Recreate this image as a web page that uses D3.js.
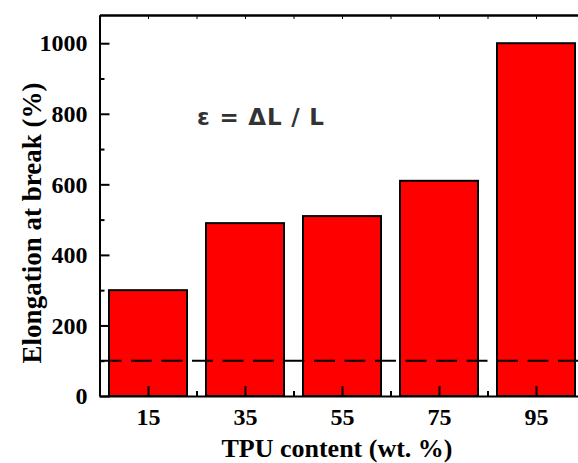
<!DOCTYPE html>
<html lang="en">
<head>
  <meta charset="UTF-8">
  <title>Elongation at break</title>
  <script src="https://cdn.jsdelivr.net/npm/d3@7"></script>
  <style>
    body { margin: 0; background: #fff; }
    svg { display: block; }
  </style>
</head>
<body>
  <div id="chart"></div>
  <script>
    const categories = ['15', '35', '55', '75', '95']
    const elongation = [300, 490, 510, 610, 1000]
    const yTicks = [0, 200, 400, 600, 800, 1000]
    const yMinorTicks = [100, 300, 500, 700, 900]
    const referenceLine = 100

    const width = 578
    const height = 463
    const plotLeft = 99.5
    const plotTop = 15
    const plotBottom = 396
    const serif = '"Liberation Serif", "Times New Roman", "DejaVu Serif", serif'

    const svg = d3.select('#chart')
      .append('svg')
      .attr('width', width)
      .attr('height', height)

    // categories sit at 1..5, plot edges at 0.5 and 5.5
    const xScale = d3.scaleLinear()
      .domain([0.5, categories.length + 0.5])
      .range([plotLeft, plotLeft + 97 * categories.length])

    const yScale = d3.scaleLinear()
      .domain([0, 1080])
      .range([plotBottom, plotTop])

    const barWidth = 78

    svg.selectAll('rect.bar')
      .data(elongation)
      .enter()
      .append('rect')
      .attr('class', 'bar')
      .attr('x', (d, i) => xScale(i + 1) - barWidth / 2)
      .attr('y', d => yScale(d))
      .attr('width', barWidth)
      .attr('height', d => yScale(0) - yScale(d))
      .attr('fill', '#ff0000')
      .attr('stroke', '#000')
      .attr('stroke-width', 2)

    svg.append('line')
      .attr('x1', xScale(0.5) + 1)
      .attr('x2', xScale(5.5))
      .attr('y1', yScale(referenceLine))
      .attr('y2', yScale(referenceLine))
      .attr('stroke', '#000')
      .attr('stroke-width', 2)
      .attr('stroke-dasharray', '21,9.5')

    const catIdx = categories.map((c, i) => i + 1)
    const xMinor = d3.range(0.5, categories.length + 1, 1)

    const xAxis = d3.axisBottom(xScale)
      .tickValues(catIdx)
      .tickFormat((d, i) => categories[i])
      .tickSizeInner(-10)
      .tickSizeOuter(0)
      .tickPadding(12)

    svg.append('g')
      .attr('transform', `translate(0, ${plotBottom})`)
      .call(xAxis)

    svg.append('g')
      .attr('transform', `translate(0, ${plotBottom})`)
      .call(d3.axisBottom(xScale).tickValues(xMinor).tickFormat('').tickSizeInner(-5).tickSizeOuter(0))
      .select('.domain').remove()

    const gTop = svg.append('g')
      .attr('transform', `translate(0, ${plotTop})`)
      .call(d3.axisTop(xScale).tickValues(catIdx.concat(xMinor)).tickFormat('').tickSizeInner(-4).tickSizeOuter(0))

    const yAxis = d3.axisLeft(yScale)
      .tickValues(yTicks)
      .tickFormat(d3.format('d'))
      .tickSizeInner(-10)
      .tickSizeOuter(0)
      .tickPadding(12)

    svg.append('g')
      .attr('transform', `translate(${plotLeft}, 0)`)
      .call(yAxis)

    svg.append('g')
      .attr('transform', `translate(${plotLeft}, 0)`)
      .call(d3.axisLeft(yScale).tickValues(yMinorTicks).tickFormat('').tickSizeInner(-5).tickSizeOuter(0))
      .select('.domain').remove()

    svg.selectAll('.domain, .tick line')
      .attr('stroke', '#000')
      .attr('stroke-width', 2)

    gTop.selectAll('.tick line').attr('stroke-width', 1)
    gTop.select('.domain').attr('stroke-width', 2.5)

    svg.selectAll('g').attr('font-family', null)

    svg.selectAll('.tick text')
      .attr('fill', '#000')
      .style('font-family', serif)
      .style('font-weight', 'bold')
      .style('font-size', '24px')

    svg.append('text')
      .attr('x', 337)
      .attr('y', 457)
      .attr('text-anchor', 'middle')
      .style('font-family', serif)
      .style('font-weight', 'bold')
      .style('font-size', '26px')
      .text('TPU content (wt. %)')

    svg.append('text')
      .attr('transform', 'translate(41, 223) rotate(-90)')
      .attr('text-anchor', 'middle')
      .style('font-family', serif)
      .style('font-weight', 'bold')
      .style('font-size', '27px')
      .text('Elongation at break (%)')

    svg.append('text')
      .attr('x', 197)
      .attr('y', 125)
      .style('font-family', '"DejaVu Sans", sans-serif')
      .style('font-weight', 'bold')
      .style('font-size', '23px')
      .style('letter-spacing', '0.8px')
      .attr('fill', '#333')
      .text('ε = ΔL / L')
  </script>
</body>
</html>
